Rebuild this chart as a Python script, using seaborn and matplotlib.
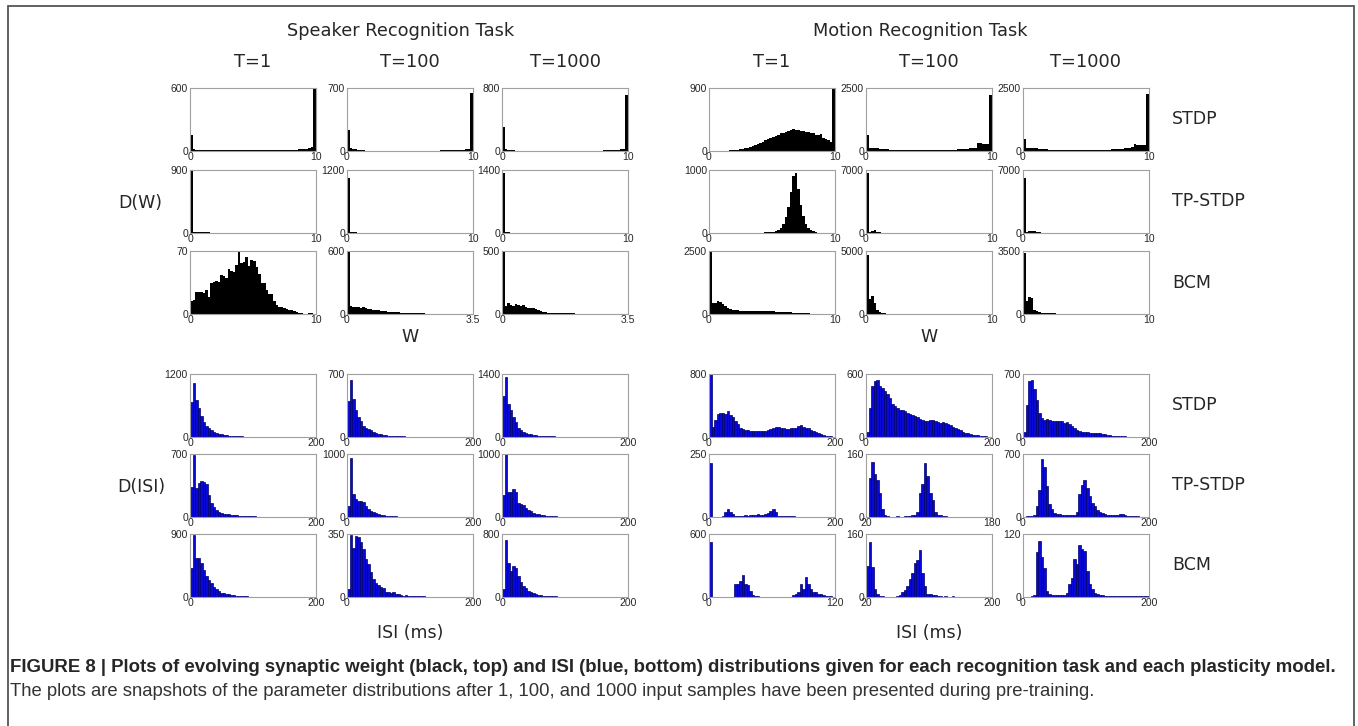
import numpy as np
import matplotlib
matplotlib.use('Agg')
import matplotlib.pyplot as plt
from matplotlib.patches import Rectangle
import seaborn as sns

# ---- bin counts (50 bins per panel) ----

# Speaker task, synaptic weight W
sp_w_stdp_1 = [150, 15, 10, 8, 8, 7, 7, 6, 6, 6,
               6, 5, 5, 5, 5, 5, 5, 5, 5, 5,
               5, 5, 5, 5, 6, 6, 6, 6, 7, 7,
               7, 8, 8, 8, 9, 9, 10, 10, 11, 12,
               12, 13, 14, 15, 16, 18, 22, 28, 35, 590]
sp_w_stdp_100 = [230, 30, 25, 20, 12, 8, 6, 5, 5, 4,
                 4, 4, 4, 3, 3, 3, 3, 3, 3, 3,
                 3, 3, 3, 3, 3, 3, 3, 3, 3, 3,
                 4, 4, 4, 4, 5, 5, 5, 6, 6, 7,
                 7, 8, 9, 10, 11, 13, 15, 18, 25, 640]
sp_w_stdp_1000 = [300, 25, 18, 12, 8, 6, 5, 4, 4, 4,
                  3, 3, 3, 3, 3, 3, 3, 3, 3, 3,
                  3, 3, 3, 3, 3, 3, 3, 3, 3, 3,
                  3, 4, 4, 4, 4, 5, 5, 5, 6, 6,
                  7, 8, 9, 10, 12, 14, 17, 22, 30, 710]
sp_w_tp_1 = [900, 18, 15, 12, 10, 9, 8, 8, 7, 7,
             7, 6, 6, 6, 6, 6, 6, 5, 5, 5,
             5, 5, 5, 5, 5, 5, 5, 5, 4, 4,
             4, 4, 4, 3, 3, 3, 2, 2, 2, 2,
             1, 1, 1, 1, 1, 1, 0, 0, 0, 0]
sp_w_tp_100 = [1050, 25, 15, 10, 8, 6, 5, 4, 4, 3,
               3, 3, 3, 3, 3, 3, 3, 3, 3, 3,
               3, 2, 2, 2, 2, 2, 2, 2, 2, 2,
               2, 2, 2, 2, 2, 2, 2, 2, 2, 2,
               2, 2, 2, 2, 2, 2, 2, 2, 2, 2]
sp_w_tp_1000 = [1330, 18, 12, 8, 6, 5, 4, 4, 3, 3,
                3, 3, 3, 3, 3, 3, 3, 3, 3, 3,
                2, 2, 2, 2, 2, 2, 2, 2, 2, 2,
                2, 2, 2, 2, 2, 2, 2, 2, 2, 2,
                2, 2, 2, 2, 2, 2, 2, 2, 2, 2]
sp_w_bcm_1 = [15, 16, 25, 24, 24, 23, 27, 19, 35, 36,
              37, 36, 43, 42, 40, 50, 48, 47, 55, 70,
              57, 58, 63, 53, 60, 59, 52, 45, 35, 35,
              27, 22, 22, 15, 10, 8, 8, 7, 6, 5,
              4, 3, 2, 1, 1, 0, 0, 1, 1, 0]
sp_w_bcm_100 = [590, 80, 70, 65, 70, 60, 65, 55, 50, 45,
                40, 38, 35, 30, 28, 25, 22, 20, 18, 16,
                15, 14, 12, 11, 10, 9, 8, 7, 6, 5,
                5, 4, 4, 4, 3, 3, 3, 3, 2, 2,
                2, 2, 2, 1, 1, 1, 1, 1, 1, 1]
sp_w_bcm_1000 = [500, 60, 85, 70, 60, 80, 75, 60, 70, 55,
                 50, 50, 45, 40, 35, 25, 18, 12, 10, 8,
                 7, 6, 5, 5, 6, 7, 5, 4, 4, 3,
                 3, 3, 2, 2, 2, 2, 2, 2, 1, 1,
                 1, 1, 1, 1, 1, 1, 1, 1, 1, 1]

# Motion task, synaptic weight W
mo_w_stdp_1 = [0, 0, 1, 2, 3, 4, 5, 7, 9, 12,
               16, 20, 25, 30, 38, 48, 58, 70, 85, 100,
               115, 130, 150, 170, 185, 200, 215, 230, 250, 260,
               270, 290, 300, 310, 305, 300, 290, 280, 270, 265,
               260, 250, 235, 225, 240, 190, 170, 150, 130, 880]
mo_w_stdp_100 = [650, 110, 100, 100, 110, 90, 80, 70, 60, 55,
                 50, 45, 40, 40, 35, 35, 30, 30, 30, 30,
                 30, 30, 30, 30, 30, 30, 30, 35, 35, 35,
                 40, 40, 45, 45, 50, 55, 60, 65, 70, 80,
                 90, 100, 110, 130, 330, 300, 280, 270, 280, 2230]
mo_w_stdp_1000 = [460, 130, 120, 120, 110, 100, 90, 80, 70, 60,
                  55, 50, 45, 40, 40, 35, 35, 30, 30, 30,
                  30, 30, 30, 30, 30, 30, 30, 35, 35, 35,
                  40, 40, 45, 50, 55, 60, 65, 70, 80, 90,
                  100, 110, 130, 150, 270, 250, 240, 240, 250, 2280]
mo_w_tp_1 = [0, 0, 0, 0, 0, 0, 0, 0, 0, 0,
             1, 1, 1, 1, 2, 2, 2, 3, 3, 4,
             5, 6, 8, 10, 14, 20, 30, 50, 80, 140,
             250, 420, 650, 900, 950, 700, 450, 270, 150, 80,
             45, 25, 12, 6, 3, 2, 1, 1, 0, 0]
mo_w_tp_100 = [6630, 150, 250, 350, 100, 60, 40, 30, 25, 20,
               15, 12, 10, 10, 8, 8, 6, 6, 5, 5,
               5, 4, 4, 4, 4, 3, 3, 3, 3, 3,
               3, 3, 2, 2, 2, 2, 2, 2, 2, 2,
               2, 2, 2, 2, 2, 2, 2, 2, 2, 2]
mo_w_tp_1000 = [6100, 150, 180, 200, 180, 120, 80, 50, 30, 20,
                15, 12, 10, 8, 8, 6, 6, 5, 5, 5,
                4, 4, 4, 4, 3, 3, 3, 3, 3, 3,
                3, 3, 2, 2, 2, 2, 2, 2, 2, 2,
                2, 2, 2, 2, 2, 2, 2, 2, 2, 2]
mo_w_bcm_1 = [2500, 430, 420, 500, 470, 380, 300, 240, 200, 170,
              150, 140, 130, 125, 120, 120, 115, 120, 125, 120,
              115, 110, 110, 105, 100, 100, 95, 90, 85, 80,
              75, 70, 60, 55, 45, 40, 35, 30, 25, 20,
              15, 12, 10, 8, 6, 5, 4, 3, 2, 1]
mo_w_bcm_100 = [4650, 1200, 1400, 900, 350, 120, 60, 40, 30, 25,
                20, 18, 15, 15, 12, 12, 10, 10, 10, 8,
                8, 8, 8, 6, 6, 6, 6, 5, 5, 5,
                5, 4, 4, 4, 4, 4, 3, 3, 3, 3,
                3, 3, 3, 2, 2, 2, 2, 2, 2, 2]
mo_w_bcm_1000 = [3400, 700, 920, 900, 250, 150, 100, 70, 50, 40,
                 35, 30, 30, 25, 25, 20, 18, 16, 15, 14,
                 12, 12, 10, 10, 10, 9, 9, 8, 8, 7,
                 7, 6, 6, 5, 5, 5, 4, 4, 4, 3,
                 3, 3, 3, 2, 2, 2, 2, 2, 2, 2]

# Speaker task, ISI
sp_isi_stdp_1 = [665, 1020, 710, 555, 406, 277, 213, 168, 129, 97,
                 77, 65, 52, 39, 32, 25, 20, 18, 15, 12,
                 10, 9, 8, 7, 6, 5, 5, 4, 4, 3,
                 3, 3, 2, 2, 2, 2, 2, 1, 1, 1,
                 1, 1, 1, 1, 1, 1, 0, 0, 0, 0]
sp_isi_stdp_100 = [400, 630, 425, 295, 218, 180, 124, 100, 85, 75,
                   60, 45, 35, 28, 22, 18, 15, 12, 10, 9,
                   8, 7, 6, 5, 5, 4, 4, 3, 3, 3,
                   3, 2, 2, 2, 2, 2, 2, 2, 1, 1,
                   1, 1, 1, 1, 1, 1, 1, 1, 1, 1]
sp_isi_stdp_1000 = [903, 1325, 738, 602, 452, 324, 211, 150, 120, 98,
                    75, 60, 45, 38, 32, 28, 24, 20, 16, 14,
                    12, 10, 9, 8, 7, 6, 5, 5, 4, 4,
                    3, 3, 3, 2, 2, 2, 2, 2, 1, 1,
                    1, 1, 1, 1, 1, 1, 1, 1, 1, 1]
sp_isi_tp_1 = [330, 690, 320, 380, 400, 390, 370, 250, 160, 110,
               80, 60, 45, 35, 30, 28, 25, 22, 18, 15,
               12, 10, 9, 8, 7, 6, 5, 5, 4, 4,
               3, 3, 3, 2, 2, 2, 2, 2, 1, 1,
               1, 1, 1, 1, 1, 1, 1, 1, 0, 0]
sp_isi_tp_100 = [170, 930, 370, 280, 260, 250, 240, 170, 130, 100,
                 80, 60, 45, 35, 25, 20, 15, 12, 10, 8,
                 6, 5, 5, 4, 4, 3, 3, 3, 2, 2,
                 2, 2, 2, 2, 1, 1, 1, 1, 1, 1,
                 1, 1, 1, 1, 1, 1, 1, 1, 1, 1]
sp_isi_tp_1000 = [350, 1000, 400, 400, 450, 400, 220, 200, 190, 150,
                  110, 90, 70, 50, 40, 30, 25, 20, 15, 12,
                  10, 8, 7, 6, 5, 5, 4, 4, 3, 3,
                  3, 2, 2, 2, 2, 2, 2, 1, 1, 1,
                  1, 1, 1, 1, 1, 1, 1, 1, 1, 1]
sp_isi_bcm_1 = [420, 890, 560, 560, 480, 380, 300, 250, 200, 150,
                110, 80, 60, 55, 50, 40, 35, 25, 20, 15,
                12, 10, 8, 7, 6, 5, 4, 3, 3, 3,
                2, 2, 2, 2, 2, 2, 1, 1, 1, 1,
                1, 1, 1, 1, 1, 1, 1, 1, 0, 0]
sp_isi_bcm_100 = [46, 345, 271, 340, 331, 304, 267, 212, 184, 138,
                  101, 79, 64, 55, 50, 28, 28, 24, 28, 18,
                  15, 9, 7, 9, 6, 5, 4, 4, 3, 3,
                  3, 2, 2, 2, 2, 2, 2, 1, 1, 1,
                  1, 1, 1, 1, 1, 1, 1, 1, 1, 1]
sp_isi_bcm_1000 = [97, 728, 434, 328, 400, 370, 265, 190, 140, 110,
                   80, 60, 45, 35, 28, 22, 18, 15, 12, 10,
                   8, 7, 6, 5, 5, 4, 4, 3, 3, 3,
                   2, 2, 2, 2, 2, 2, 1, 1, 1, 1,
                   1, 1, 1, 1, 1, 1, 1, 1, 1, 1]

# Motion task, ISI
mo_isi_stdp_1 = [800, 130, 210, 290, 300, 300, 290, 330, 280, 250,
                 200, 160, 120, 100, 90, 85, 75, 70, 80, 70,
                 75, 75, 80, 90, 100, 120, 130, 125, 120, 110,
                 100, 105, 110, 115, 120, 140, 150, 130, 120, 110,
                 90, 80, 60, 45, 35, 25, 18, 12, 8, 5]
mo_isi_stdp_100 = [52, 277, 487, 529, 545, 487, 471, 439, 406, 368,
                   316, 294, 277, 261, 261, 245, 229, 219, 213, 197,
                   187, 174, 164, 148, 155, 164, 164, 155, 142, 132,
                   142, 132, 123, 110, 97, 84, 74, 65, 52, 42,
                   36, 29, 23, 19, 16, 13, 10, 6, 3, 3]
mo_isi_stdp_1000 = [60, 357, 620, 632, 530, 406, 267, 210, 192, 203,
                    192, 181, 173, 181, 181, 173, 154, 165, 143, 117,
                    98, 79, 68, 60, 53, 53, 49, 49, 41, 41,
                    45, 34, 30, 23, 19, 15, 12, 10, 9, 8,
                    6, 5, 4, 3, 3, 2, 2, 1, 1, 0]
mo_isi_tp_1 = [215, 0, 0, 0, 0, 3, 20, 33, 20, 11,
               5, 2, 2, 2, 6, 5, 6, 8, 6, 11,
               8, 6, 10, 15, 24, 33, 20, 5, 2, 2,
               2, 2, 2, 2, 1, 1, 1, 1, 1, 1,
               1, 1, 1, 1, 1, 1, 1, 1, 1, 1]
mo_isi_tp_100 = [0, 100, 140, 110, 95, 60, 20, 6, 2, 1,
                 1, 1, 2, 1, 1, 2, 3, 3, 5, 6,
                 12, 60, 85, 138, 105, 60, 42, 13, 6, 4,
                 3, 2, 1, 1, 0, 1, 0, 0, 1, 0,
                 0, 0, 0, 0, 0, 0, 0, 0, 0, 0]
mo_isi_tp_1000 = [5, 8, 10, 12, 25, 120, 300, 640, 560, 350,
                  140, 85, 45, 30, 28, 26, 25, 25, 24, 25,
                  26, 60, 260, 360, 410, 320, 230, 155, 120, 80,
                  60, 40, 30, 26, 22, 20, 20, 25, 30, 28,
                  20, 15, 12, 10, 8, 6, 5, 4, 3, 2]
mo_isi_bcm_1 = [520, 0, 0, 0, 0, 0, 0, 0, 0, 2,
                120, 125, 150, 210, 120, 115, 60, 20, 9, 5,
                2, 1, 1, 1, 1, 1, 1, 1, 1, 1,
                2, 2, 3, 15, 30, 45, 125, 80, 190, 125,
                80, 50, 45, 30, 28, 18, 14, 10, 6, 3]
mo_isi_bcm_100 = [80, 140, 75, 20, 8, 3, 2, 1, 1, 0,
                  1, 1, 2, 5, 12, 17, 29, 46, 62, 87,
                  95, 120, 62, 29, 8, 8, 4, 4, 2, 2,
                  1, 2, 1, 1, 2, 1, 1, 1, 0, 1,
                  1, 1, 0, 1, 1, 1, 0, 0, 1, 1]
mo_isi_bcm_1000 = [0, 0, 0, 1, 4, 85, 107, 77, 56, 12,
                   6, 4, 4, 4, 4, 4, 4, 8, 24, 37,
                   72, 62, 99, 91, 88, 50, 24, 15, 8, 5,
                   3, 3, 2, 2, 2, 1, 1, 1, 1, 1,
                   1, 1, 1, 2, 2, 2, 2, 2, 1, 1]

# axis maxima and x ranges, [model][snapshot]
sp_w_ymax = [[600, 700, 800], [900, 1200, 1400], [70, 600, 500]]
mo_w_ymax = [[900, 2500, 2500], [1000, 7000, 7000], [2500, 5000, 3500]]
sp_isi_ymax = [[1200, 700, 1400], [700, 1000, 1000], [900, 350, 800]]
mo_isi_ymax = [[800, 600, 700], [250, 160, 700], [600, 160, 120]]
sp_w_xrange = [[(0, 10)] * 3, [(0, 10)] * 3, [(0, 10), (0, 3.5), (0, 3.5)]]
mo_w_xrange = [[(0, 10)] * 3] * 3
sp_isi_xrange = [[(0, 200)] * 3] * 3
mo_isi_xrange = [[(0, 200)] * 3, [(0, 200), (20, 180), (0, 200)],
                 [(0, 120), (20, 200), (0, 200)]]

tasks = ['Speaker Recognition Task', 'Motion Recognition Task']
snapshots = ['T=1', 'T=100', 'T=1000']
models = ['STDP', 'TP-STDP', 'BCM']

sp_w = [[sp_w_stdp_1, sp_w_stdp_100, sp_w_stdp_1000],
        [sp_w_tp_1, sp_w_tp_100, sp_w_tp_1000],
        [sp_w_bcm_1, sp_w_bcm_100, sp_w_bcm_1000]]
mo_w = [[mo_w_stdp_1, mo_w_stdp_100, mo_w_stdp_1000],
        [mo_w_tp_1, mo_w_tp_100, mo_w_tp_1000],
        [mo_w_bcm_1, mo_w_bcm_100, mo_w_bcm_1000]]
sp_isi = [[sp_isi_stdp_1, sp_isi_stdp_100, sp_isi_stdp_1000],
          [sp_isi_tp_1, sp_isi_tp_100, sp_isi_tp_1000],
          [sp_isi_bcm_1, sp_isi_bcm_100, sp_isi_bcm_1000]]
mo_isi = [[mo_isi_stdp_1, mo_isi_stdp_100, mo_isi_stdp_1000],
          [mo_isi_tp_1, mo_isi_tp_100, mo_isi_tp_1000],
          [mo_isi_bcm_1, mo_isi_bcm_100, mo_isi_bcm_1000]]

# ---- layout (pixels of a 1358x726 canvas) ----
W, H = 1358, 726
col_left = [190, 347, 502, 709, 866, 1023]
col_w = 126
row_top = [88, 170, 251, 374, 454, 534]
row_h = 63

sns.set_style('white')
plt.rcParams['font.family'] = ['DejaVu Sans']

fig = plt.figure(figsize=(W / 100, H / 100), dpi=100)


def draw(ax, counts, xr, ymax, face, edge, lw):
    lo, hi = xr
    n = len(counts)
    step = (hi - lo) / n
    centers = lo + step * (np.arange(n) + 0.5)
    sns.histplot(x=centers, weights=counts, bins=n, binrange=(lo, hi),
                 color=face, edgecolor=edge, linewidth=lw, alpha=1, ax=ax)
    ax.set_xlim(lo, hi)
    ax.set_ylim(0, ymax)
    ax.set_xticks([lo, hi])
    ax.set_xticklabels([f'{lo:g}', f'{hi:g}'])
    ax.set_yticks([0, ymax])
    ax.set_yticklabels(['0', str(ymax)])
    ax.tick_params(axis='x', length=0, pad=0.5, labelsize=7.5)
    ax.tick_params(axis='y', length=0, pad=1.5, labelsize=7.5)
    for t in ax.get_xticklabels() + ax.get_yticklabels():
        t.set_family('Liberation Sans')
    ax.set_xlabel('')
    ax.set_ylabel('')
    for s in ax.spines.values():
        s.set_color('#a0a0a0')
        s.set_linewidth(0.8)


groups = [(sp_w, sp_w_ymax, sp_w_xrange, 0, 0, 'black', 'black', 0),
          (mo_w, mo_w_ymax, mo_w_xrange, 0, 3, 'black', 'black', 0),
          (sp_isi, sp_isi_ymax, sp_isi_xrange, 3, 0, '#0808d8', '#00006a', 0.5),
          (mo_isi, mo_isi_ymax, mo_isi_xrange, 3, 3, '#0808d8', '#00006a', 0.5)]

for data, ymaxes, xranges, r0, c0, face, edge, lw in groups:
    for i in range(3):
        for j in range(3):
            top = row_top[r0 + i]
            left = col_left[c0 + j]
            ax = fig.add_axes([left / W, 1 - (top + row_h) / H, col_w / W, row_h / H])
            draw(ax, data[i][j], xranges[i][j], ymaxes[i][j], face, edge, lw)


def fx(px):
    return px / W


def fy(py):
    return 1 - py / H


# headers
for k, task in enumerate(tasks):
    fig.text(fx([401, 920][k]), fy(31), task, ha='center', va='center', fontsize=12.8)
    for j, snap in enumerate(snapshots):
        cx = col_left[3 * k + j] + col_w / 2
        fig.text(fx(cx), fy(62), snap, ha='center', va='center', fontsize=12.8)
    cx = col_left[3 * k + 1] + col_w / 2
    fig.text(fx(cx), fy(337), 'W', ha='center', va='center', fontsize=12.5)
    fig.text(fx(cx), fy(633), 'ISI (ms)', ha='center', va='center', fontsize=12.5)

for r in range(6):
    fig.text(fx(1172), fy(row_top[r] + row_h / 2), models[r % 3],
             ha='left', va='center', fontsize=12.5)

fig.text(fx(140), fy(203), 'D(W)', ha='center', va='center', fontsize=12.5)
fig.text(fx(141), fy(487), 'D(ISI)', ha='center', va='center', fontsize=12.5)

# caption
fig.text(fx(10), fy(668),
         'FIGURE 8 | Plots of evolving synaptic weight (black, top) and ISI (blue, bottom) '
         'distributions given for each recognition task and each plasticity model.',
         ha='left', va='center', fontsize=13.4, fontweight='bold', family='Liberation Sans')
fig.text(fx(10), fy(692),
         'The plots are snapshots of the parameter distributions after 1, 100, and 1000 '
         'input samples have been presented during pre-training.',
         ha='left', va='center', fontsize=13.35, color='#333333', family='Liberation Sans')

# outer frame
fig.patches.append(Rectangle((fx(8), -0.05), fx(1354) - fx(8), fy(6) + 0.05,
                             transform=fig.transFigure, fill=False,
                             edgecolor='#555555', linewidth=1.3))

fig.savefig('out.png', dpi=100)
